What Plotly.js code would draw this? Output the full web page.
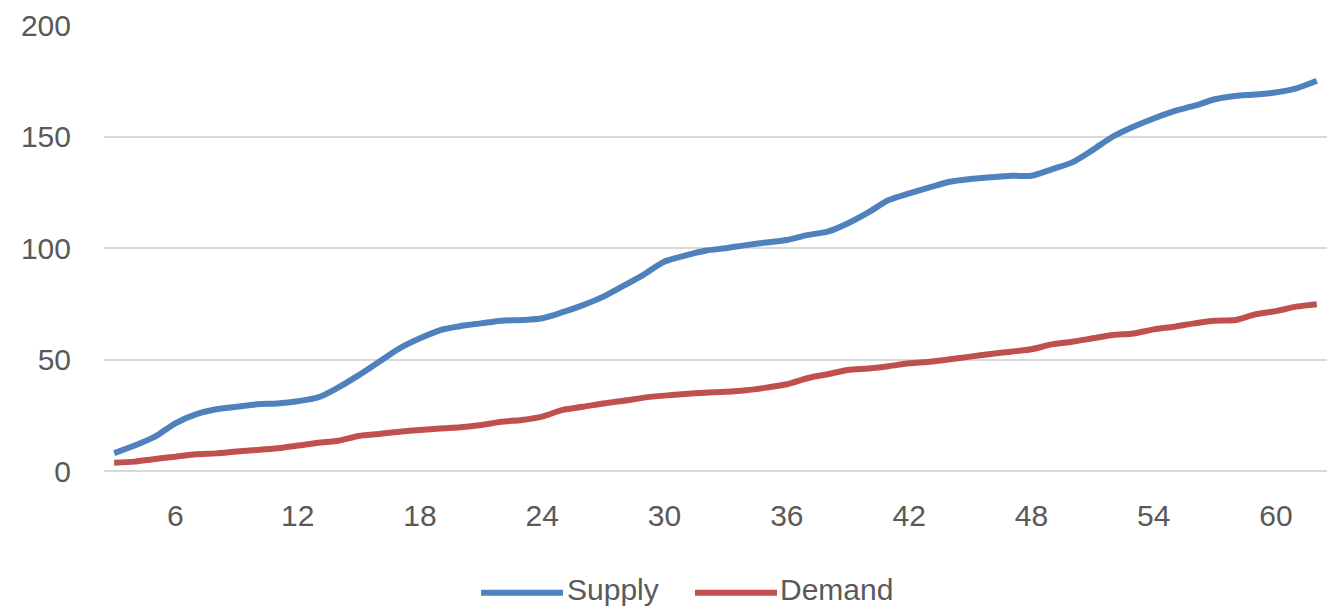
<!DOCTYPE html>
<html>
<head>
<meta charset="utf-8">
<script src="https://cdn.plot.ly/plotly-3.0.1.min.js"></script>
<style>
  html, body { margin: 0; padding: 0; background: #ffffff; }
  #chart { width: 1333px; height: 606px; }
</style>
</head>
<body>
<div id="chart"></div>
<script>
const periods = [3,4,5,6,7,8,9,10,11,12,13,14,15,16,17,18,19,20,21,22,23,24,25,26,27,28,29,30,31,32,
                 33,34,35,36,37,38,39,40,41,42,43,44,45,46,47,48,49,50,51,52,53,54,55,56,57,58,59,60,61,62];
const supply = [8,11.4,15.4,21.4,25.4,27.7,28.8,29.9,30.3,31.3,33,37.5,43,49,55,59.5,63.2,65,66.2,67.4,
                67.7,68.5,71.2,74.4,78.2,83.1,88.2,93.9,96.6,98.8,99.9,101.3,102.5,103.6,105.8,107.3,111.1,116,121.5,124.5,
                127.2,129.7,130.9,131.7,132.4,132.4,135.3,138.4,143.9,150,154.4,158.1,161.4,163.8,166.7,168.2,168.8,169.8,171.6,175];
const demand = [3.7,4.2,5.4,6.4,7.5,7.9,8.7,9.4,10.2,11.4,12.7,13.6,15.7,16.6,17.6,18.4,19.1,19.6,20.6,22.1,
                22.9,24.4,27.4,28.8,30.3,31.5,32.9,33.8,34.5,35.1,35.5,36.2,37.4,38.9,41.6,43.4,45.3,46,47,48.3,
                49,50.1,51.3,52.5,53.5,54.6,56.8,58,59.5,61,61.7,63.5,64.7,66.2,67.4,67.7,70.3,71.7,73.7,74.8];
const xTicks = [6,12,18,24,30,36,42,48,54,60];
const yTicks = [0,50,100,150,200];
const seriesNames = ['Supply','Demand'];
const seriesColors = ['#4F81BD','#C0504D'];

const font = {family: 'Liberation Sans, Arial, sans-serif', size: 30, color: '#595959'};

const traces = [supply, demand].map((vals, i) => ({
  x: periods, y: vals, type: 'scatter', mode: 'lines', name: seriesNames[i],
  line: {color: seriesColors[i], width: 6, shape: 'spline', smoothing: 0.8},
  showlegend: false, hoverinfo: 'x+y'
}));

// custom legend (wide line swatches as in the source)
const legendItems = [
  {x0: 0.3083, x1: 0.3753, tx: 0.3770},
  {x0: 0.4832, x1: 0.5503, tx: 0.5510}
];
const shapes = legendItems.map((it, i) => ({
  type: 'line', xref: 'paper', yref: 'paper', x0: it.x0, x1: it.x1, y0: -0.2729, y1: -0.2729,
  line: {color: seriesColors[i], width: 6}
}));
const annotations = legendItems.map((it, i) => ({
  xref: 'paper', yref: 'paper', x: it.tx, y: -0.2646, xanchor: 'left', yanchor: 'middle',
  text: seriesNames[i], showarrow: false, font: font
}));

const layout = {
  width: 1333, height: 606,
  margin: {l: 104, r: 6, t: 25, b: 135},
  paper_bgcolor: '#ffffff', plot_bgcolor: '#ffffff',
  font: font,
  showlegend: false,
  xaxis: {
    range: [2.5, 62.5], tickmode: 'array', tickvals: xTicks, ticktext: xTicks.map(String),
    showgrid: false, zeroline: false, showline: false, ticks: '',
    ticklabelstandoff: 24, tickfont: font, fixedrange: true
  },
  yaxis: {
    range: [0, 200], tickmode: 'array', tickvals: yTicks, ticktext: yTicks.map(String),
    showgrid: true, gridcolor: '#D9D9D9', gridwidth: 2,
    zeroline: true, zerolinecolor: '#D9D9D9', zerolinewidth: 2,
    showline: false, ticks: '', ticklabelstandoff: 32, tickfont: font, fixedrange: true
  },
  shapes: shapes,
  annotations: annotations
};

Plotly.newPlot('chart', traces, layout, {displayModeBar: false, staticPlot: true});
</script>
</body>
</html>
